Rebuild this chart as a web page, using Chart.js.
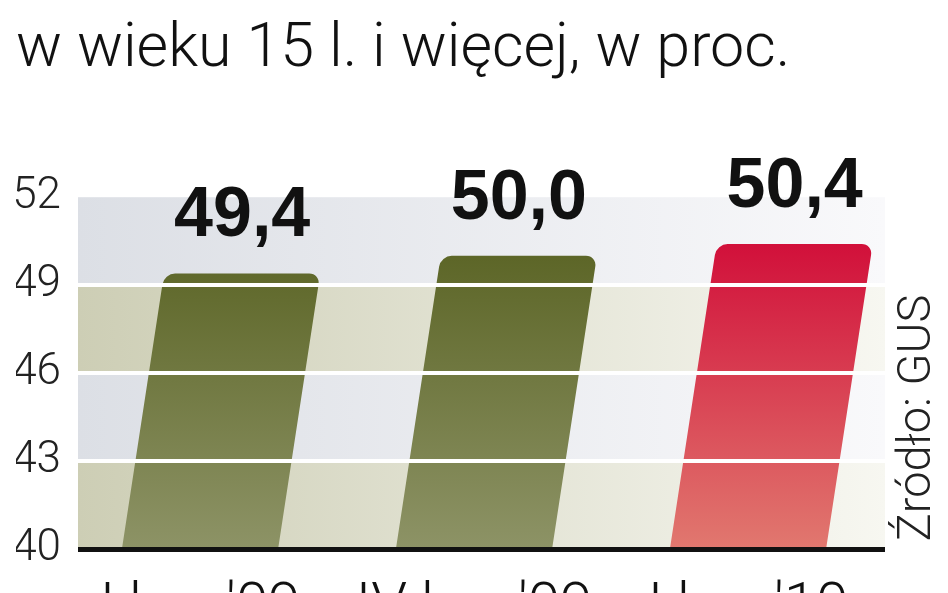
<!DOCTYPE html>
<html>
<head>
<meta charset="utf-8">
<script src="https://cdn.jsdelivr.net/npm/chart.js@4/dist/chart.umd.min.js"></script>
<style>
  html, body { margin: 0; padding: 0; background: #ffffff; overflow: hidden; }
  #wrap { width: 948px; height: 593px; position: relative; }
</style>
</head>
<body>
<div id="wrap"><canvas id="c"></canvas></div>
<script>
// ---- data ----
const titleText = "w wieku 15 l. i więcej, w proc.";
const categories = ["I kw. '09", "IV kw. '09", "I kw. '10"];
const values = [49.4, 50.0, 50.4];
const yTickValues = [40, 43, 46, 49, 52];
const sourceText = "Źródło: GUS";

// ---- style ----
const SKEW = 0.153;
const BG_LEFT = 78;
const oliveTop = '#535d1b', oliveBottom = '#8d9366';
const redTop = '#cf0032', redBottom = '#e1786f';
const blueBandL = '#dcdfe5', blueBandR = '#f9f9fb';
const beigeBandL = '#cdceb5', beigeBandR = '#f7f7f1';

function barGradient(context) {
  const chart = context.chart;
  const area = chart.chartArea;
  const isRed = context.dataIndex === values.length - 1;
  if (!area) return isRed ? redTop : oliveTop;
  const g = chart.ctx.createLinearGradient(0, area.top, 0, area.bottom);
  g.addColorStop(0, isRed ? redTop : oliveTop);
  g.addColorStop(1, isRed ? redBottom : oliveBottom);
  return g;
}

const decoPlugin = {
  id: 'deco',
  beforeDraw(chart) {
    const ctx = chart.ctx, area = chart.chartArea, y = chart.scales.y;
    ctx.save();
    ctx.fillStyle = '#ffffff';
    ctx.fillRect(0, 0, chart.width, chart.height);
    for (let i = 0; i < yTickValues.length - 1; i++) {
      const y0 = y.getPixelForValue(yTickValues[i]);
      const y1 = y.getPixelForValue(yTickValues[i + 1]);
      const beige = i % 2 === 0;
      const g = ctx.createLinearGradient(BG_LEFT, 0, area.right, 0);
      g.addColorStop(0, beige ? beigeBandL : blueBandL);
      g.addColorStop(1, beige ? beigeBandR : blueBandR);
      ctx.fillStyle = g;
      ctx.fillRect(BG_LEFT, y1, area.right - BG_LEFT, y0 - y1);
    }
    ctx.restore();
  },
  beforeDatasetsDraw(chart) {
    const ctx = chart.ctx;
    const pivot = chart.scales.y.getPixelForValue(yTickValues[0]);
    ctx.save();
    ctx.transform(1, 0, -SKEW, 1, SKEW * pivot, 0);
  },
  afterDatasetsDraw(chart) {
    const ctx = chart.ctx;
    ctx.restore();
    const pivot = chart.scales.y.getPixelForValue(yTickValues[0]);
    const meta = chart.getDatasetMeta(0);
    ctx.save();
    ctx.font = 'bold 70px "Liberation Sans", Arial, sans-serif';
    ctx.fillStyle = '#111111';
    ctx.textAlign = 'center';
    ctx.textBaseline = 'alphabetic';
    meta.data.forEach((bar, i) => {
      const x = bar.x + SKEW * (pivot - bar.y);
      ctx.fillText(values[i].toFixed(1).replace('.', ','), x, bar.y - 37);
    });
    ctx.restore();
  },
  afterDraw(chart) {
    const ctx = chart.ctx, area = chart.chartArea;
    ctx.save();
    ctx.fillStyle = '#111111';
    ctx.fillRect(BG_LEFT, area.bottom - 2, area.right - BG_LEFT, 5);
    ctx.translate(918, 418);
    ctx.rotate(-Math.PI / 2);
    ctx.font = '300 47px Roboto, "Liberation Sans", sans-serif';
    ctx.fillStyle = '#222222';
    ctx.textAlign = 'center';
    ctx.textBaseline = 'middle';
    ctx.fillText(sourceText, 0, 0);
    ctx.restore();
  }
};

new Chart(document.getElementById('c'), {
  type: 'bar',
  data: {
    labels: categories,
    datasets: [{
      data: values,
      base: yTickValues[0],
      backgroundColor: barGradient,
      borderWidth: 0,
      borderRadius: { topLeft: 11, topRight: 11, bottomLeft: 0, bottomRight: 0 },
      borderSkipped: 'bottom',
      categoryPercentage: 0.57,
      barPercentage: 1.0,
      clip: false
    }]
  },
  options: {
    responsive: true,
    maintainAspectRatio: false,
    animation: false,
    layout: { padding: { left: 16, right: 63, top: 0, bottom: 0 } },
    plugins: {
      legend: { display: false },
      tooltip: { enabled: false },
      title: {
        display: true,
        text: titleText,
        align: 'start',
        color: '#111111',
        font: { family: 'Roboto, "Liberation Sans", sans-serif', size: 61, weight: '300', lineHeight: 1.2 },
        padding: { top: 14, bottom: 110 }
      }
    },
    scales: {
      x: {
        grid: { display: false, drawTicks: false },
        border: { display: false },
        ticks: {
          color: '#111111',
          padding: 25,
          maxRotation: 0,
          autoSkip: false,
          font: { family: 'Roboto, "Liberation Sans", sans-serif', size: 58, weight: '300' }
        },
        afterFit(s) { s.height = 44; }
      },
      y: {
        min: 40,
        max: 52,
        afterBuildTicks(s) { s.ticks = yTickValues.map(v => ({ value: v })); },
        grid: {
          z: 1,
          drawTicks: false,
          lineWidth: 4,
          color: (c) => (c.tick && [43, 46, 49].includes(c.tick.value)) ? '#ffffff' : 'rgba(0,0,0,0)'
        },
        border: { display: false },
        ticks: {
          color: '#222222',
          padding: 2,
          font: { family: 'Roboto, "Liberation Sans", sans-serif', size: 44, weight: '300' }
        },
        afterFit(s) { s.width = 47; }
      }
    }
  },
  plugins: [decoPlugin]
});
</script>
</body>
</html>
